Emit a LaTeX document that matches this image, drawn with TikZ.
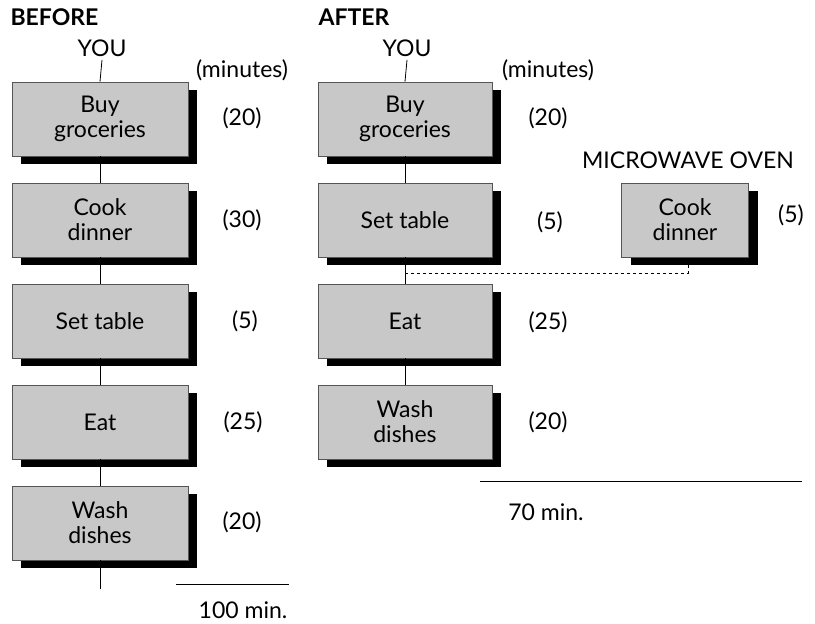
\documentclass[tikz,border=0pt]{standalone}
\usepackage{fontspec}
\setmainfont{Lato}
\usetikzlibrary{positioning,shadows}
\definecolor{taskgrey}{HTML}{C8C8C8}
\definecolor{edgegrey}{HTML}{555555}

\begin{document}
\begin{tikzpicture}[
  x=1pt, y=-1pt,
  font=\fontsize{23}{25}\selectfont,
  task/.style={draw=edgegrey, line width=0.8pt, fill=taskgrey, align=center,
               minimum width=176pt, minimum height=74pt, inner sep=2pt,
               general shadow={fill=black, shadow xshift=9pt, shadow yshift=-8pt}},
  hdr/.style={font=\fontsize{23}{25}\selectfont\bfseries, anchor=west},
  dur/.style={anchor=center},
  link/.style={line width=0.8pt},
]
\useasboundingbox (0,0) rectangle (815,624);

% ---------------- before: one person does everything -------------------
\node[hdr] (before) at (7,17) {BEFORE};
\node (you1) at (102,48) {YOU};
\node (min1) at (242,70) {(minutes)};

\node[task] (b1) at (100,119) {Buy\\groceries};
\node[task] (b2) at (100,220) {Cook\\dinner};
\node[task] (b3) at (100,321) {Set table};
\node[task] (b4) at (100,422) {Eat};
\node[task] (b5) at (100,523) {Wash\\dishes};
\coordinate (end1) at (100,589);

\node[dur] (d1) at (242,118) {(20)};
\node[dur] (d2) at (242,220) {(30)};
\node[dur] (d3) at (245,321) {(5)};
\node[dur] (d4) at (243,422) {(25)};
\node[dur] (d5) at (242,522) {(20)};

\draw[link] (you1.south) -- (b1.north);
\draw[link] (b1) -- (b2);
\draw[link] (b2) -- (b3);
\draw[link] (b3) -- (b4);
\draw[link] (b4) -- (b5);
\draw[link] (b5) -- (end1);

\coordinate (tot1a) at (176,584);
\coordinate (tot1b) at (289,584);
\draw[link] (tot1a) -- (tot1b);
\node (sum1) at (243,610) {100 min.};

% ---------------- after: the oven cooks while you set the table --------
\node[hdr] (after) at (315,17) {AFTER};
\node (you2) at (407,48) {YOU};
\node (min2) at (548,70) {(minutes)};

\node[task, minimum width=174pt] (a1) at (405,119) {Buy\\groceries};
\node[task, minimum width=174pt] (a2) at (405,220) {Set table};
\node[task, minimum width=174pt] (a3) at (405,321) {Eat};
\node[task, minimum width=174pt] (a4) at (405,422) {Wash\\dishes};

\node (oven) at (688,160) {MICROWAVE OVEN};
\coordinate (join) at (405,273);
\draw[link, dashed, line width=0.6pt] (join) -| (688,250);
\node[task, minimum width=127pt] (cook) at (685,220) {Cook\\dinner};

\node[dur] (e1) at (548,118) {(20)};
\node[dur] (e2) at (550,222) {(5)};
\node[dur] (e3) at (548,322) {(25)};
\node[dur] (e4) at (548,422) {(20)};
\node[dur] (e5) at (791,215) {(5)};

\draw[link] (you2.south) -- (a1.north);
\draw[link] (a1) -- (a2);
\draw[link] (a2) -- (a3);
\draw[link] (a3) -- (a4);

\coordinate (tot2a) at (480,481);
\coordinate (tot2b) at (802,481);
\draw[link] (tot2a) -- (tot2b);
\node (sum2) at (546,512) {70 min.};

\end{tikzpicture}
\end{document}
